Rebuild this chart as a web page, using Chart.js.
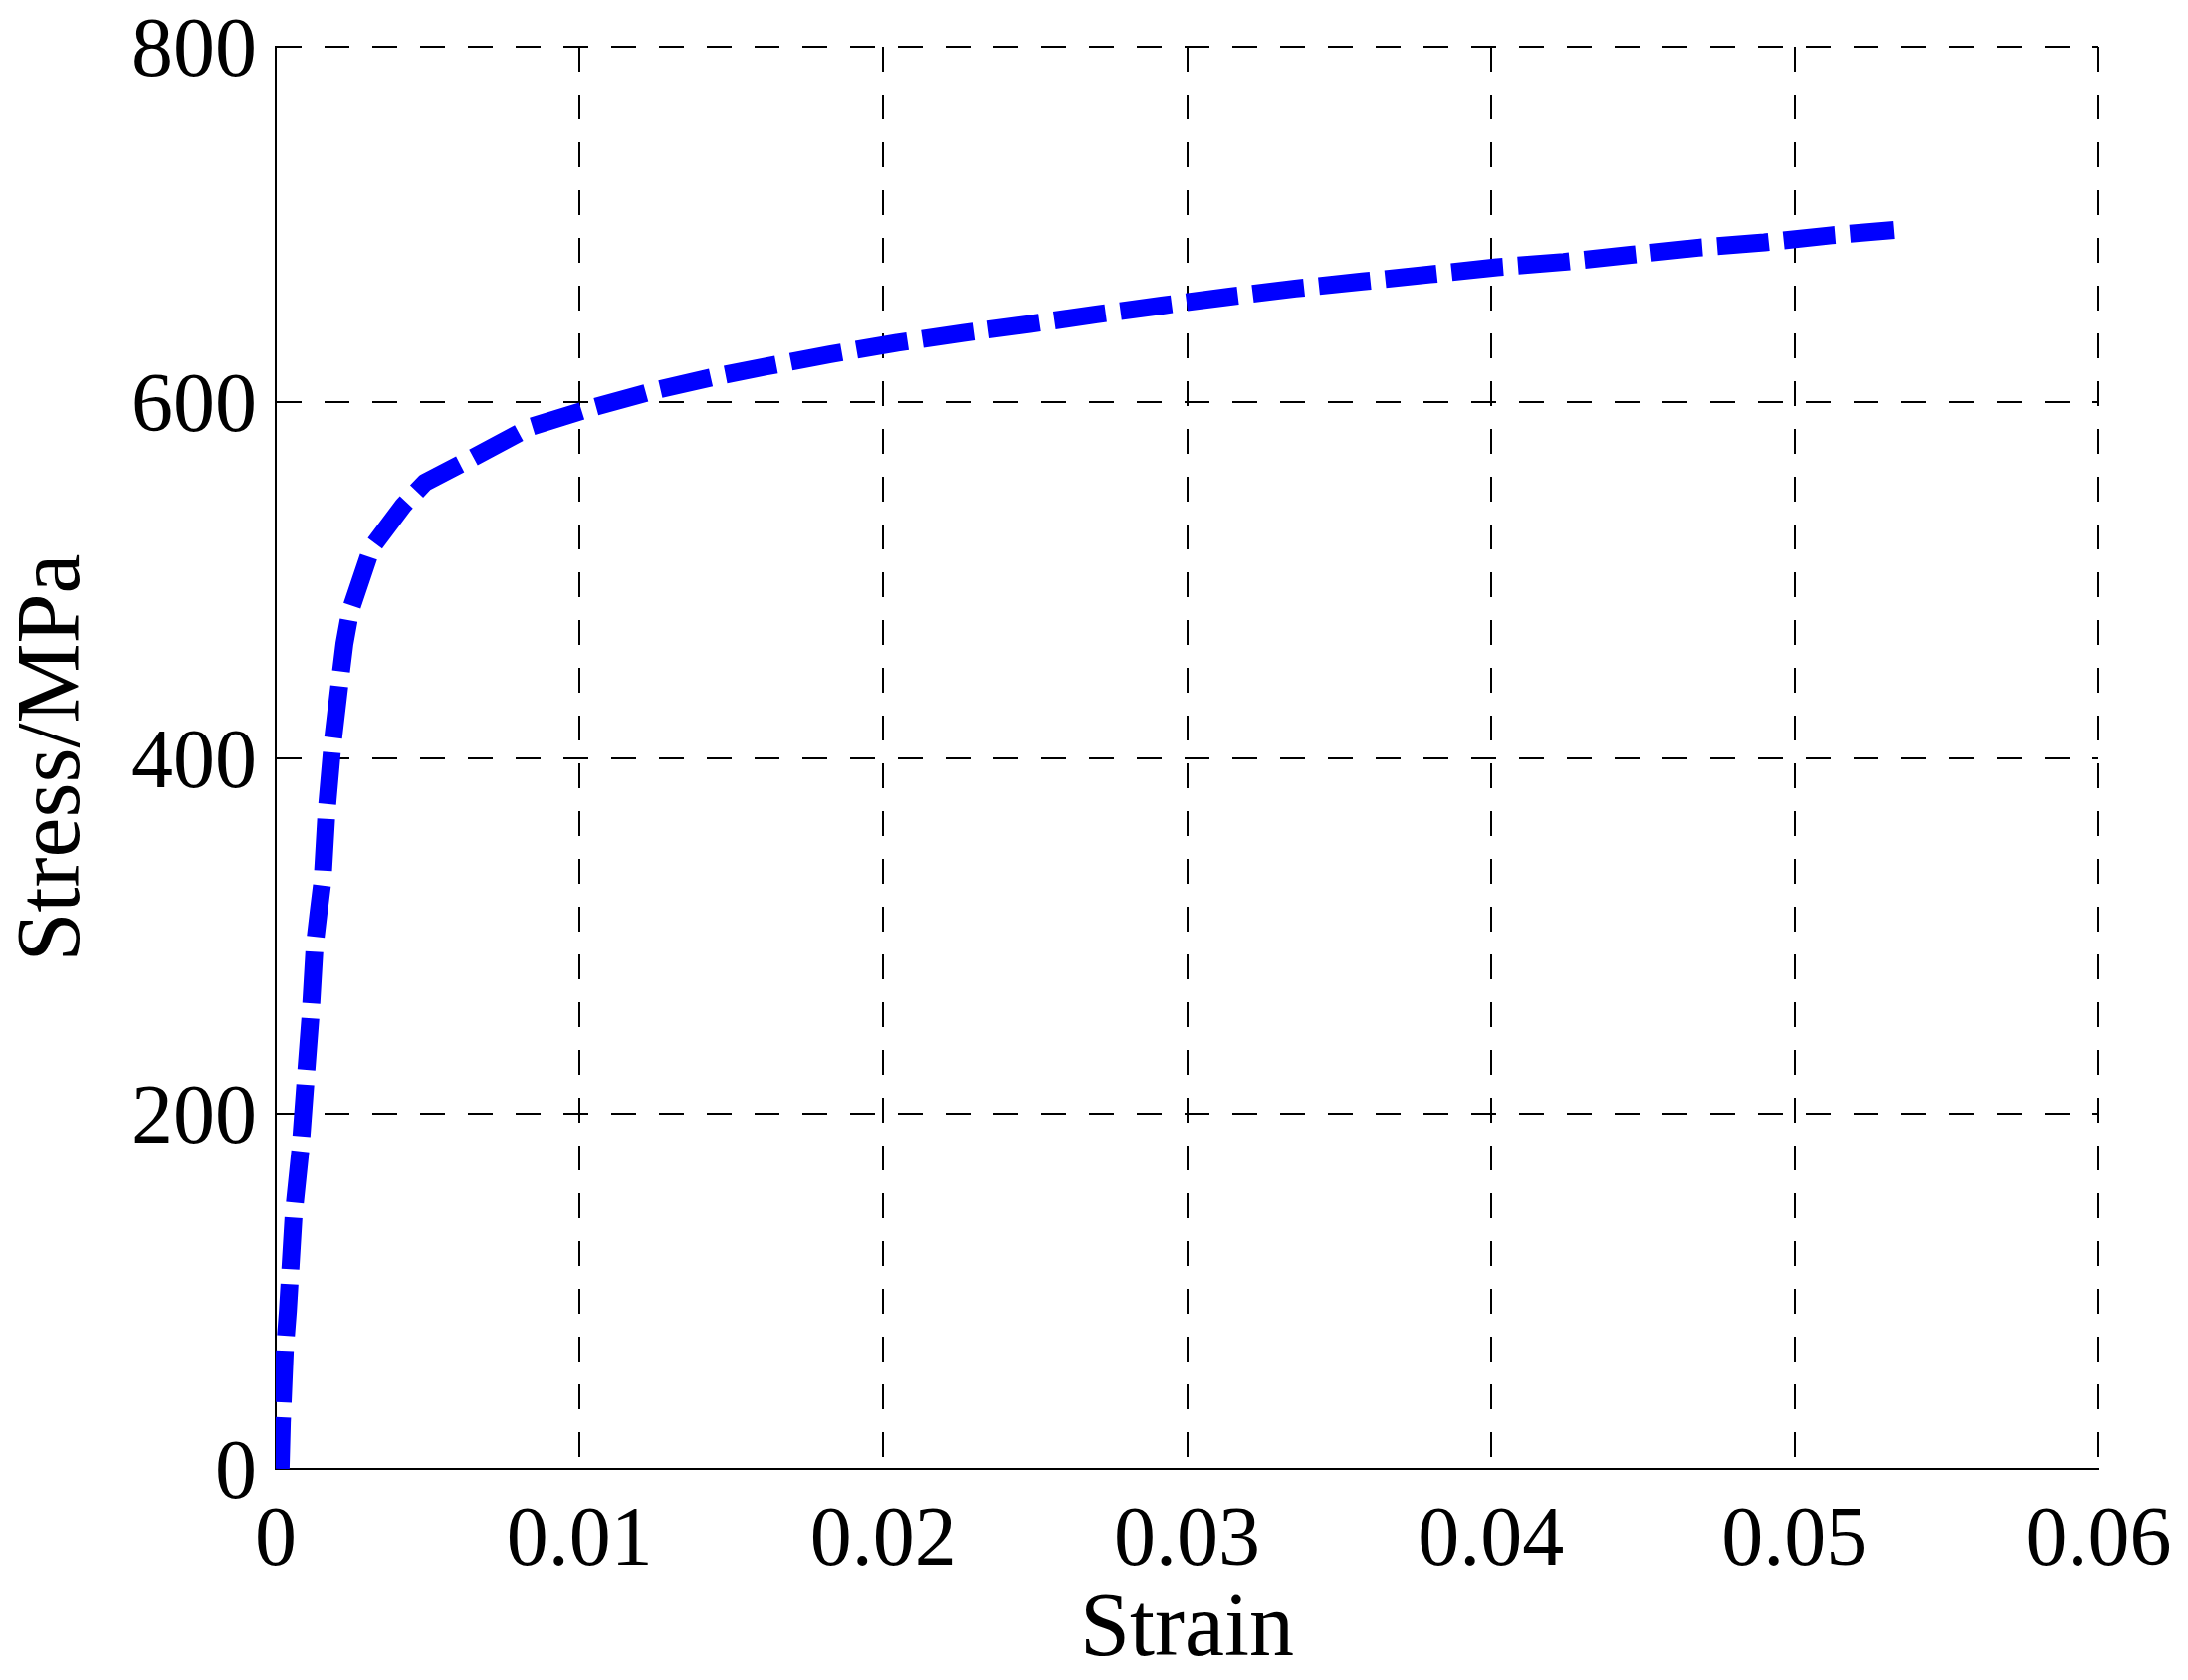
<!DOCTYPE html>
<html>
<head>
<meta charset="utf-8">
<title>Stress-Strain</title>
<script src="https://cdn.jsdelivr.net/npm/chart.js@4.4.1/dist/chart.umd.min.js"></script>
<style>
  html, body { margin: 0; padding: 0; background: #fff; overflow: hidden; }
  #wrap { width: 2198px; height: 1688px; position: relative; }
  canvas { display: block; }
</style>
</head>
<body>
<div id="wrap"><canvas id="stressChart"></canvas></div>
<script>
// values
const strain = [0.00016, 0.0002, 0.0003, 0.0004, 0.00059, 0.00082, 0.00098, 0.00115, 0.00128, 0.00141,
  0.00154, 0.00167, 0.00187, 0.00213, 0.00226, 0.00246, 0.00315, 0.0042, 0.00492, 0.0064,
  0.00836, 0.01043, 0.01256, 0.01434, 0.0161, 0.01825, 0.02046, 0.02262, 0.02482, 0.02702,
  0.02923, 0.03141, 0.03357, 0.03577, 0.038, 0.0402, 0.0424, 0.0446, 0.04682, 0.049,
  0.05121, 0.05328]
const stress = [0, 26, 67, 89, 143, 181, 218, 256, 294, 313,
  331, 369, 408, 446, 464, 483, 518, 542, 555, 568,
  586, 597, 607, 614, 620, 627, 633.5, 639, 644, 649.5,
  654.6, 659.5, 664, 668, 672, 676, 679, 683, 687, 690,
  694, 697]
const xTickLabels = ["0", "0.01", "0.02", "0.03", "0.04", "0.05", "0.06"]
const yTickLabels = ["0", "200", "400", "600", "800"]
const xTitle = "Strain"
const yTitle = "Stress/MPa"

const ctx = document.getElementById("stressChart").getContext("2d");
const serif = "'Liberation Serif', 'DejaVu Serif', serif"

let points = strain.map((s, i) => ({ x: s, y: stress[i] }))

const gridStyle = {
    color: "#000",
    lineWidth: 2,
    drawTicks: false,
}

let myChart = new Chart(ctx, {
    type: "line",
    data: {
        datasets: [{
            data: points,
            borderColor: "#0000ff",
            backgroundColor: "#0000ff",
            borderWidth: 18,
            borderDash: [52, 15],
            borderCapStyle: "butt",
            borderJoinStyle: "round",
            pointRadius: 0,
            tension: 0,
            fill: false,
            clip: 0,
        }]
    },
    options: {
        responsive: true,
        maintainAspectRatio: false,
        animation: false,
        layout: { padding: { top: 47, right: 90, left: 0, bottom: 0 } },
        plugins: {
            legend: { display: false },
            tooltip: { enabled: false },
        },
        scales: {
            x: {
                type: "linear",
                min: 0,
                max: 0.06,
                ticks: {
                    stepSize: 0.01,
                    padding: 32,
                    color: "#000",
                    font: { family: serif, size: 84, lineHeight: 1 },
                    callback: (v) => xTickLabels[Math.round(v / 0.01)],
                },
                grid: { ...gridStyle },
                border: { display: true, color: "#000", width: 2, dash: [25, 23] },
                title: {
                    display: true,
                    text: xTitle,
                    color: "#000",
                    font: { family: serif, size: 90, lineHeight: 1 },
                    padding: { top: 0, bottom: 4 },
                },
                afterFit: (scale) => {
                    scale.height = 212
                    scale.paddingLeft = 0
                    scale.paddingRight = 0
                },
            },
            y: {
                type: "linear",
                min: 0,
                max: 800,
                ticks: {
                    stepSize: 200,
                    padding: 19,
                    labelOffset: 7,
                    color: "#000",
                    font: { family: serif, size: 84, lineHeight: 1 },
                    callback: (v) => yTickLabels[Math.round(v / 200)],
                },
                grid: { ...gridStyle },
                border: { display: true, color: "#000", width: 2, dash: [25, 23] },
                title: {
                    display: true,
                    text: yTitle,
                    color: "#000",
                    font: { family: serif, size: 90, lineHeight: 1 },
                    padding: { top: 10, bottom: 0 },
                },
                afterFit: (scale) => {
                    scale.width = 277
                    scale.paddingTop = 0
                    scale.paddingBottom = 0
                },
            },
        },
    },
});
</script>
</body>
</html>
